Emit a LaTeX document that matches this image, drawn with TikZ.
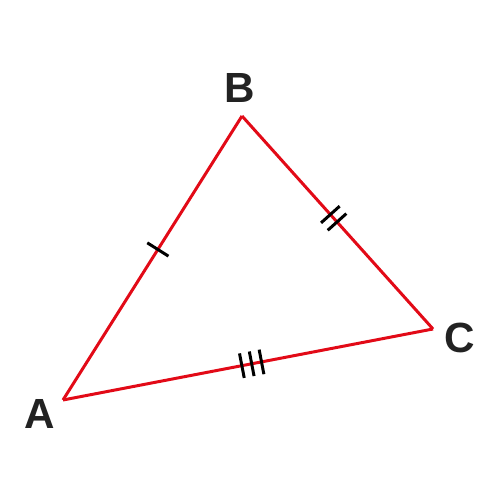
\documentclass[tikz,border=0pt]{standalone}
\usepackage{fontspec}
\setmainfont{Liberation Sans}
\usetikzlibrary{decorations.markings}
\definecolor{edgered}{RGB}{226,10,23}
\definecolor{labelgray}{RGB}{34,34,34}
\tikzset{
    side/.style={draw=edgered, line width=1.7pt},
    tickmarks/.style 2 args={postaction={decorate, decoration={markings,
        mark=at position #1 with {\foreach \tk in {#2}
            {\draw[black, line width=1.7pt] (\tk,-0.25) -- (\tk,0.25);}}}}},
    vlabel/.style={font=\fontsize{24}{24}\selectfont\bfseries, text=labelgray}
}
\begin{document}
\begin{tikzpicture}
                \useasboundingbox (0,0) rectangle (10,10);
                \coordinate (A) at (1.26,2.0);
                \coordinate (B) at (4.84,7.68);
                \coordinate (C) at (8.66,3.42);
                \draw[side, tickmarks={0.53}{0}] (A) -- (B);
                \draw[side, tickmarks={0.48}{-0.1,0.1}] (B) -- (C);
                \draw[side, tickmarks={0.51}{-0.2,0,0.2}] (A) -- (C);
                \node[vlabel] (labA) at (0.8,1.72) {A};
                \node[vlabel] (labB) at (4.8,8.24) {B};
                \node[vlabel] (labC) at (9.2,3.24) {C};
            \end{tikzpicture}
\end{document}
